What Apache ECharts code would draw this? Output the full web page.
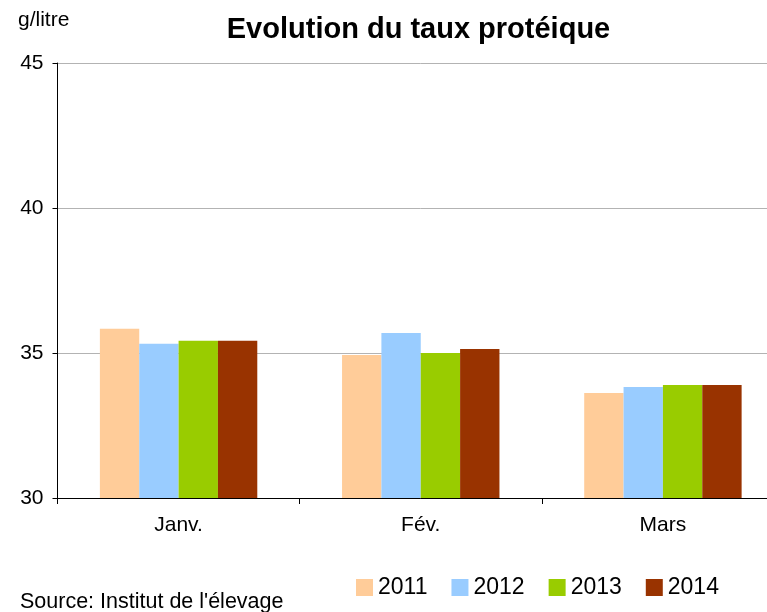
<!DOCTYPE html>
<html>
<head>
<meta charset="utf-8">
<script src="https://cdn.jsdelivr.net/npm/echarts@6/dist/echarts.min.js"></script>
<style>
    html, body { margin: 0; padding: 0; background: #fff; overflow: hidden; }
    #charts { width: 784px; height: 612px; }
</style>
</head>
<body>
<div id="charts"></div>
<script>
var mois = ['Janv.', 'Fév.', 'Mars'];
var annees = ['2011', '2012', '2013', '2014'];
var couleurs = ['#ffcc99', '#99ccff', '#99cc00', '#993300'];
var v2011 = [35.84, 34.93, 33.62];
var v2012 = [35.32, 35.69, 33.83];
var v2013 = [35.42, 35.0, 33.9];
var v2014 = [35.42, 35.14, 33.9];
var valeurs = [v2011, v2012, v2013, v2014];

// le graphique d'origine est coupé à droite : la zone de dessin dépasse la fenêtre
var myChart = echarts.init(document.getElementById('charts'));
var font = 'Liberation Sans, Arial, sans-serif';

var series = annees.map(function (a, i) {
    return {
        name: a,
        type: 'bar',
        barGap: 0,
        barCategoryGap: '35%',
        itemStyle: { color: couleurs[i] },
        data: valeurs[i]
    };
});

var option = {
    animation: false,
    color: couleurs,
    title: {
        text: 'Evolution du taux protéique',
        left: 413.5,
        textAlign: 'center',
        top: 10,
        textStyle: { fontFamily: font, fontSize: 29, fontWeight: 'bold', color: '#000' }
    },
    legend: {
        data: annees,
        left: 356,
        top: 576,
        padding: 0,
        itemWidth: 17,
        itemHeight: 17,
        itemGap: 24,
        icon: 'rect',
        textStyle: { fontFamily: font, fontSize: 23, color: '#000' }
    },
    graphic: [{
        type: 'text',
        left: 18,
        top: 10,
        style: { text: 'g/litre', font: '21px ' + font, fill: '#000' }
    }, {
        type: 'text',
        left: 20,
        top: 591,
        style: { text: "Source: Institut de l'élevage", font: '21.5px ' + font, fill: '#000' }
    }],
    grid: {
        left: 57.5,
        right: 0,
        top: 63,
        bottom: 114,
        containLabel: false
    },
    xAxis: {
        type: 'category',
        data: mois,
        axisLine: { lineStyle: { color: '#000', width: 1 } },
        axisTick: { show: true, length: 6, lineStyle: { color: '#000' } },
        axisLabel: { fontFamily: font, fontSize: 21, color: '#000', margin: 17 }
    },
    yAxis: {
        type: 'value',
        min: 30,
        max: 45,
        interval: 5,
        axisLine: { show: true, lineStyle: { color: '#000', width: 1 } },
        axisTick: { show: true, length: 5, lineStyle: { color: '#000' } },
        axisLabel: { fontFamily: font, fontSize: 21, color: '#000', margin: 14 },
        splitLine: { lineStyle: { color: '#b3b3b3', width: 1 } }
    },
    series: series
};

myChart.setOption(option);
</script>
</body>
</html>
